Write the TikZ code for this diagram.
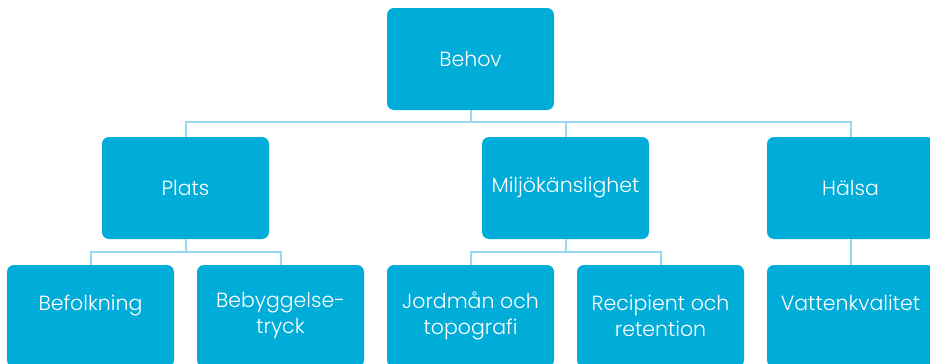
\documentclass[tikz,border=0pt]{standalone}
\usepackage{fontspec}
\setmainfont{Poppins Light}
\definecolor{boxblue}{HTML}{00ACD8}
\definecolor{linkblue}{HTML}{9AD8F4}
\begin{document}
\begin{tikzpicture}[x=1pt,y=-1pt,
  box/.style={fill=boxblue,rounded corners=7pt,minimum width=167pt,minimum height=102pt,
    inner sep=0pt,text=white,align=center,font=\fontsize{20.5}{26}\selectfont},
  conn/.style={draw=linkblue,line width=2pt}]
\useasboundingbox (0,0) rectangle (930,364);
\clip (0,0) rectangle (930,364);
\coordinate (bus) at (470.5,121.5);
\coordinate (busP) at (185.5,252);
\coordinate (busM) at (565.5,252);
\node[box] (behov) at (470.5,59) {Behov};
\node[box] (plats) at (185.5,188) {Plats};
\node[box] (milj) at (565.5,188) {Miljökänslighet};
\node[box] (halsa) at (850.5,188) {Hälsa};
\node[box] (befolk) at (90.5,316) {Befolkning\\\phantom{X}};
\node[box] (bebygg) at (280.5,316) {Bebyggelse-\\tryck};
\node[box] (jord) at (470.5,316) {Jordmån och\\topografi};
\node[box] (recip) at (660.5,316) {Recipient och\\retention};
\node[box] (vatten) at (850.5,316) {Vattenkvalitet\\\phantom{X}};
\draw[conn] (behov) -- (bus);
\draw[conn] (bus) -| (plats);
\draw[conn] (bus) -| (milj);
\draw[conn] (bus) -| (halsa);
\draw[conn] (plats) -- (busP) -| (befolk);
\draw[conn] (busP) -| (bebygg);
\draw[conn] (milj) -- (busM) -| (jord);
\draw[conn] (busM) -| (recip);
\draw[conn] (halsa) -- (vatten);
\end{tikzpicture}
\end{document}
